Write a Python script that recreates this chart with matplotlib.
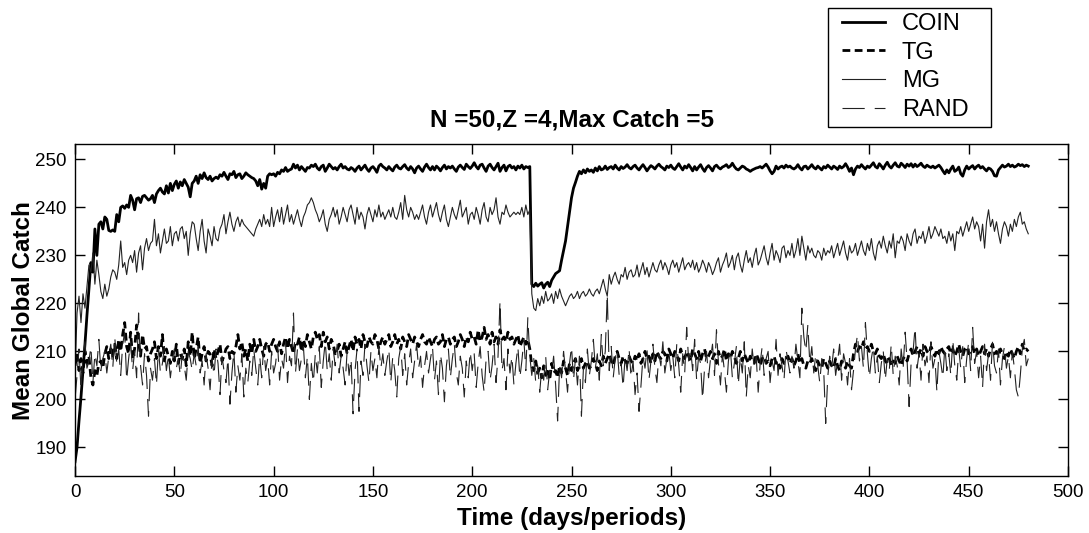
import numpy as np
import matplotlib
matplotlib.use("Agg")
import matplotlib.pyplot as plt
from matplotlib.patches import Rectangle

title = "N =50,Z =4,Max Catch =5"
xlabel = "Time (days/periods)"
ylabel = "Mean Global Catch"
labels = ["COIN", "TG", "MG", "RAND"]
xticks = [0, 50, 100, 150, 200, 250, 300, 350, 400, 450, 500]
yticks = [190, 200, 210, 220, 230, 240, 250]

coin = [
187.0, 190.0, 195.5, 200.5, 206.0, 211.5, 217.5, 223.0, 228.5, 226.5, 235.5, 230.0, 236.5, 237.0, 235.5, 238.0, 237.5, 235.2, 235.0, 235.3,
235.0, 238.5, 237.0, 240.0, 240.3, 239.8, 240.5, 240.0, 242.5, 241.5, 239.5, 241.8, 242.0, 241.0, 242.3, 242.5, 242.0, 241.5, 241.8, 242.5,
241.0, 242.8, 243.5, 244.0, 243.2, 242.8, 244.5, 243.0, 245.0, 243.5, 244.8, 245.5, 244.0, 245.3, 244.5, 245.8, 245.0, 244.2, 242.2, 245.0,
245.5, 246.5, 245.0, 246.8, 246.0, 247.2, 246.2, 245.8, 246.5, 245.5, 246.0, 246.3, 246.0, 246.8, 246.5, 247.3, 246.5, 245.8, 247.0, 246.8,
247.5, 246.2, 246.8, 247.0, 246.0, 246.5, 247.2, 246.8, 246.5, 246.2, 246.0, 245.5, 244.5, 245.8, 243.8, 245.0, 244.0, 246.5, 247.0, 246.8,
247.0, 246.5, 247.3, 247.0, 247.8, 247.5, 248.3, 247.5, 247.8, 248.0, 249.0, 248.2, 248.8, 247.8, 248.5, 248.0, 247.5, 248.3, 248.2, 248.8,
248.5, 249.0, 248.2, 247.8, 248.5, 248.8, 247.5, 248.2, 249.0, 248.5, 248.0, 248.3, 247.8, 248.5, 249.0, 248.2, 248.5, 248.0, 247.8, 248.3,
248.0, 247.5, 248.2, 248.6, 247.8, 248.3, 248.8, 248.0, 247.5, 248.2, 248.5, 248.0, 247.3, 248.6, 249.0, 248.5, 248.2, 247.8, 248.5, 248.0,
247.6, 248.4, 248.8, 248.2, 248.0, 248.5, 248.9, 248.2, 247.8, 248.5, 248.0, 247.2, 248.2, 248.6, 248.0, 247.5, 248.4, 249.0, 248.3, 247.8,
248.5, 247.8, 248.6, 248.2, 247.6, 248.3, 248.8, 248.0, 248.5, 248.2, 248.6, 248.0, 247.5, 248.4, 248.8, 248.3, 247.9, 249.0, 248.5, 248.1,
248.6, 249.3, 248.5, 248.0, 248.8, 249.0, 248.2, 247.5, 248.6, 249.0, 248.3, 247.8, 248.5, 249.2, 247.5, 248.3, 248.8, 247.6, 248.5, 248.8,
248.2, 248.5, 247.8, 248.6, 248.2, 248.8, 248.0, 248.5, 248.3, 248.5, 224.0, 223.5, 224.2, 223.6, 224.0, 224.3, 223.2, 224.0, 224.4, 223.5,
224.8, 225.5, 226.2, 226.5, 226.8, 229.0, 231.0, 233.0, 236.0, 239.0, 242.0, 244.0, 245.2, 246.5, 247.5, 247.0, 247.8, 247.2, 248.0, 247.5,
247.8, 247.3, 248.2, 247.6, 248.5, 247.8, 248.0, 248.6, 247.9, 248.3, 248.5, 248.0, 248.8, 248.2, 247.8, 248.5, 248.1, 248.4, 248.9, 248.3,
248.0, 248.5, 248.8, 248.2, 247.8, 248.4, 248.9, 248.3, 247.6, 248.2, 248.7, 248.4, 248.0, 248.6, 249.0, 248.5, 248.2, 247.8, 248.6, 248.3,
248.8, 248.2, 247.9, 248.5, 249.1, 248.4, 247.8, 248.6, 248.2, 248.9, 248.3, 247.6, 248.5, 247.8, 248.4, 248.9, 248.1, 247.5, 248.3, 248.7,
248.2, 247.6, 248.5, 248.8, 248.3, 248.0, 248.4, 248.6, 248.9, 248.3, 248.6, 249.2, 248.5, 248.0, 247.8, 248.2, 248.6, 248.4, 248.0, 247.8,
247.5, 247.8, 248.0, 248.2, 248.3, 248.5, 248.2, 248.6, 249.0, 248.4, 247.6, 247.0, 247.5, 248.6, 248.0, 248.4, 248.6, 248.2, 248.8, 248.4,
248.6, 248.2, 248.0, 248.3, 248.9, 248.2, 247.8, 248.5, 248.6, 248.0, 248.4, 248.9, 248.3, 248.0, 248.6, 248.2, 247.8, 248.5, 248.2, 248.8,
248.4, 248.0, 248.6, 248.3, 247.9, 248.6, 248.2, 248.5, 249.1, 248.4, 247.5, 248.2, 246.8, 248.0, 248.6, 248.3, 248.9, 248.4, 248.0, 248.6,
248.3, 248.8, 249.3, 248.5, 248.2, 249.1, 248.6, 248.0, 248.8, 249.4, 248.6, 248.2, 248.8, 249.3, 248.6, 248.4, 249.2, 248.8, 248.3, 249.0,
248.6, 249.1, 248.4, 249.0, 248.5, 248.8, 249.2, 248.6, 248.3, 248.8, 248.5, 248.3, 248.6, 248.2, 248.5, 248.8, 248.3, 247.6, 247.0, 247.8,
247.2, 248.0, 248.6, 247.5, 247.8, 248.4, 247.0, 246.5, 247.8, 248.6, 248.0, 248.4, 248.7, 248.0, 248.5, 248.8, 248.2, 248.5, 248.0, 247.6,
248.2, 248.0, 247.5, 246.6, 246.5, 247.8, 248.3, 248.8, 248.4, 248.6, 249.0, 248.5, 248.8, 248.4, 248.6, 249.0, 248.7, 248.9, 248.5, 248.8,
248.6,
]

tg = [
207.0, 209.5, 206.0, 208.5, 205.5, 210.0, 207.5, 209.0, 204.5, 203.0, 206.0, 205.0, 207.5, 208.0, 206.5, 209.5, 211.0, 208.5, 210.5, 209.0,
211.5, 208.5, 212.5, 210.0, 213.5, 216.0, 211.0, 209.5, 214.0, 208.5, 210.5, 215.5, 212.0, 209.0, 213.5, 210.5, 211.0, 208.0, 209.5, 210.5,
212.0, 208.5, 211.0, 209.0, 213.5, 208.0, 210.5, 209.0, 207.5, 210.0, 208.0, 211.5, 207.5, 209.5, 208.5, 210.5, 207.0, 212.0, 209.0, 214.0,
208.5, 210.5, 213.0, 207.5, 209.5, 211.0, 208.0, 210.0, 209.5, 207.0, 210.5, 208.5, 210.0, 211.5, 208.0, 209.0, 210.5, 211.0, 208.5, 210.0,
209.5, 211.0, 213.5, 210.5, 212.0, 209.0, 210.5, 208.0, 211.5, 209.5, 212.5, 210.0, 211.0, 212.5, 210.5, 209.0, 211.5, 212.0, 210.0, 211.5,
212.5, 211.0, 210.0, 212.0, 209.5, 211.5, 213.0, 210.5, 212.5, 211.0, 209.5, 212.0, 211.5, 213.0, 210.0, 212.5, 211.0, 213.5, 212.0, 210.5,
213.0, 214.0, 212.5, 213.5, 211.0, 214.0, 212.0, 213.0, 210.5, 212.5, 211.5, 209.5, 210.0, 211.5, 209.0, 210.5, 212.0, 209.5, 211.0, 212.5,
210.0, 213.0, 211.5, 212.5, 210.5, 213.5, 212.0, 211.0, 213.0, 212.0, 211.5, 213.5, 212.5, 210.5, 212.0, 213.0, 211.5, 212.5, 213.5, 211.0,
212.0, 213.5, 211.5, 212.5, 210.5, 213.0, 212.0, 211.0, 213.5, 212.5, 211.5, 213.0, 212.0, 211.0, 212.5, 213.5, 212.0, 211.5, 213.0, 212.0,
211.0, 212.5, 213.0, 211.5, 212.0, 213.5, 211.0, 212.5, 213.0, 211.5, 212.5, 213.0, 211.0, 212.0, 213.5, 212.5, 211.0, 213.0, 212.0, 214.0,
212.5, 213.0, 211.5, 214.5, 212.0, 213.0, 215.0, 212.5, 213.5, 211.5, 214.0, 212.0, 213.0, 211.5, 214.5, 212.5, 213.0, 212.0, 214.0, 212.5,
213.0, 211.5, 212.5, 213.5, 211.0, 212.0, 213.0, 211.5, 212.5, 210.5, 207.0, 206.0, 208.0, 205.5, 206.5, 204.5, 207.0, 205.0, 206.5, 204.0,
207.5, 205.5, 206.0, 204.5, 207.0, 205.5, 208.0, 206.5, 205.0, 207.5, 206.0, 207.5, 208.5, 206.0, 207.0, 208.5, 206.5, 207.5, 208.0, 206.5,
207.0, 208.5, 207.5, 206.0, 208.0, 207.0, 209.0, 207.5, 208.5, 209.5, 208.0, 207.0, 209.0, 210.0, 208.5, 207.5, 209.0, 208.0, 207.5, 209.0,
208.0, 207.5, 209.0, 208.0, 209.5, 207.5, 208.5, 210.0, 208.5, 209.0, 207.5, 209.5, 208.0, 210.0, 209.0, 208.5, 210.0, 209.5, 208.0, 210.5,
209.5, 208.5, 210.0, 209.5, 208.0, 210.5, 209.0, 208.5, 210.0, 209.0, 208.0, 210.5, 209.5, 208.5, 210.0, 208.0, 209.5, 210.5, 208.5, 209.0,
210.0, 208.5, 209.5, 207.5, 210.0, 208.5, 209.0, 210.5, 208.0, 209.5, 208.5, 210.0, 209.0, 207.5, 208.5, 210.0, 208.0, 209.5, 208.5, 207.5,
209.0, 208.0, 207.5, 209.5, 208.5, 207.0, 208.5, 209.0, 207.5, 208.0, 207.0, 208.5, 209.0, 207.5, 208.0, 206.5, 208.5, 207.5, 208.0, 209.0,
207.5, 208.5, 207.0, 208.0, 209.5, 207.5, 208.5, 207.0, 206.5, 208.0, 207.5, 208.5, 207.0, 206.0, 208.0, 207.0, 206.5, 208.5, 207.5, 206.5,
208.0, 207.0, 206.5, 208.5, 207.0, 206.0, 208.0, 207.5, 206.5, 208.0, 207.0, 206.5, 209.5, 211.5, 210.0, 211.0, 210.5, 212.0, 210.5, 211.0,
210.0, 211.5, 210.0, 209.5, 210.5, 209.0, 208.5, 209.5, 208.0, 207.5, 208.5, 207.0, 208.0, 207.5, 209.0, 208.0, 207.0, 208.5, 209.0, 208.0,
209.5, 210.5, 209.0, 210.0, 211.0, 209.5, 210.5, 209.0, 211.0, 210.0, 209.5, 211.0, 210.0, 209.0, 210.5, 209.5, 211.0, 210.0, 209.5, 210.5,
211.0, 209.5, 210.5, 209.0, 210.0, 211.5, 210.0, 209.0, 210.5, 211.0, 209.5, 210.0, 211.0, 209.5, 210.5, 209.0, 210.0, 211.0, 209.5, 210.5,
209.0, 210.5, 211.5, 209.5, 210.0, 209.0, 210.5, 209.5, 208.5, 210.0, 209.0, 210.5, 209.5, 208.5, 210.0, 211.0, 209.5, 211.5, 210.0, 210.5,
210.0,
]

mg = [
205.0, 218.0, 221.5, 216.0, 222.0, 219.0, 223.5, 228.0, 226.5, 230.5, 224.0, 229.0, 226.0, 222.5, 221.0, 224.0, 221.5, 223.0, 225.5, 227.0,
226.5, 225.0, 228.0, 233.0, 227.5, 228.5, 226.0, 229.0, 230.0, 228.5, 231.0, 226.5, 230.5, 232.0, 227.0, 231.5, 233.5, 231.0, 232.5, 233.0,
237.5, 232.0, 234.5, 230.5, 233.0, 235.5, 232.5, 233.0, 236.0, 232.0, 234.5, 235.0, 233.0, 235.5, 236.0, 233.5, 235.0, 230.0, 234.5, 237.0,
236.5, 233.5, 231.0, 235.0, 237.5, 233.0, 230.5, 235.5, 234.0, 232.0, 236.0, 233.5, 233.0, 235.5, 236.5, 238.5, 234.5, 237.0, 239.0, 236.5,
235.0, 237.0, 238.0, 236.0, 237.5, 236.5, 236.0, 235.5, 235.0, 234.5, 234.0, 235.5, 236.5, 237.5, 236.0, 238.5, 236.5, 237.5, 236.0, 240.0,
236.0, 238.0, 239.5, 237.0, 240.0, 236.5, 238.5, 240.5, 237.0, 238.5, 236.5, 238.0, 239.5, 237.5, 236.0, 238.0, 239.0, 240.5, 241.0, 242.0,
241.0, 239.5, 238.5, 237.0, 238.0, 239.5, 236.5, 235.0, 237.5, 238.5, 240.0, 238.0, 239.5, 236.5, 238.0, 240.0, 238.5, 237.0, 239.5, 240.5,
238.5, 236.5, 240.0, 237.5, 239.0, 238.0, 235.5, 238.5, 240.0, 238.5, 237.0, 239.5, 238.0, 240.5, 238.0, 239.0, 237.5, 238.5, 239.5, 238.0,
240.0, 238.0, 237.5, 239.0, 241.0, 237.5, 242.5, 239.5, 238.0, 240.0, 239.0, 237.5, 238.5, 237.5, 239.0, 240.5, 238.0, 236.5, 239.0, 240.5,
238.0, 239.5, 241.0, 238.5, 237.0, 239.0, 240.5, 237.5, 236.0, 238.0, 240.0, 238.5, 237.5, 239.5, 241.5, 238.0, 239.0, 240.0, 236.5, 238.5,
239.0, 237.5, 240.0, 238.5, 236.5, 239.5, 241.0, 238.0, 237.0, 240.0, 238.5, 239.5, 242.0, 238.0, 236.5, 239.0, 238.5, 240.5, 239.0, 238.0,
238.5, 239.0, 238.5, 239.0, 238.5, 240.0, 238.0, 240.5, 238.5, 239.5, 222.0, 219.0, 218.5, 221.0, 219.5, 221.5, 220.0, 222.5, 220.5, 221.0,
222.0, 220.0, 222.5, 221.0, 223.0, 221.5, 220.5, 219.5, 220.5, 221.5, 222.0, 221.0, 221.5, 222.5, 221.0, 222.0, 222.5, 221.5, 222.0, 223.0,
222.0, 221.5, 222.5, 223.0, 222.0, 223.5, 225.0, 223.0, 221.5, 226.0, 224.0, 225.5, 226.5, 225.0, 224.0, 226.0, 225.5, 227.5, 225.0, 226.5,
227.0, 225.5, 226.0, 228.0, 225.5, 227.0, 228.5, 226.0, 227.5, 225.5, 227.0, 228.5, 227.0, 226.5, 228.0, 229.0, 227.0, 228.5, 227.5, 226.0,
228.0, 229.0, 227.5, 228.5, 226.5, 228.0, 229.5, 227.0, 228.0, 228.5, 227.5, 229.0, 227.0, 228.5, 226.5, 227.5, 229.0, 228.0, 226.5, 228.5,
227.5, 226.0, 227.0, 228.5, 229.5, 226.5, 228.0, 229.0, 230.5, 227.5, 228.5, 230.0, 227.0, 229.5, 230.5, 228.0, 226.5, 229.0, 231.0, 228.5,
229.5, 227.5, 230.0, 231.5, 228.0, 229.0, 230.5, 232.0, 229.5, 228.0, 230.5, 232.5, 229.0, 231.0, 230.0, 228.5, 231.5, 232.0, 229.5, 231.0,
230.0, 232.5, 229.5, 231.0, 233.5, 230.0, 234.0, 231.5, 229.0, 232.0, 230.5, 231.5, 230.0, 229.5, 231.0, 230.5, 229.0, 231.5, 230.0, 231.0,
230.5, 232.0, 229.5, 231.0, 232.5, 230.0, 231.5, 233.0, 230.5, 229.0, 232.0, 230.5, 231.0, 232.5, 230.0, 231.5, 233.0, 231.0, 230.0, 232.5,
231.0, 233.5, 230.5, 229.0, 232.0, 233.0, 231.5, 234.0, 232.0, 230.5, 233.0, 231.5, 234.5, 229.5, 233.0, 232.5, 234.0, 233.0, 231.0, 234.5,
233.0, 232.0, 234.5, 235.5, 232.5, 234.0, 233.5, 235.0, 232.5, 234.0, 236.0, 233.5, 234.5, 236.0, 235.0, 234.0, 235.5, 233.5, 234.0, 232.5,
235.0, 233.0, 234.5, 231.0, 235.0, 234.5, 236.0, 234.0, 235.5, 237.0, 235.0, 236.5, 238.0, 235.5, 237.0, 236.0, 233.0, 236.5, 231.5, 237.0,
239.5, 236.0, 237.5, 235.0, 237.0, 234.5, 232.5, 235.5, 237.0, 236.0, 234.0, 236.5, 235.0, 237.5, 236.0, 238.0, 239.0, 236.5, 237.0, 235.5,
234.5,
]

rand = [
200.0, 205.0, 210.5, 202.0, 209.0, 212.0, 206.5, 208.0, 211.0, 203.5, 209.5, 207.0, 212.5, 206.0, 208.5, 210.0, 205.5, 209.0, 211.5, 206.5,
213.0, 207.5, 210.5, 205.0, 211.5, 214.0, 204.0, 208.5, 212.0, 206.0, 210.0, 204.5, 218.0, 207.0, 203.0, 209.5, 205.0, 196.5, 206.5, 204.0,
208.5, 203.0, 210.5, 205.5, 207.5, 211.0, 206.0, 209.0, 204.5, 208.0, 210.5, 206.5, 208.5, 205.0, 209.5, 207.0, 204.0, 210.0, 208.5, 206.0,
209.5, 207.0, 211.0, 205.5, 208.0, 203.0, 209.5, 206.5, 202.0, 208.5, 205.0, 210.5, 207.5, 201.0, 209.0, 206.0, 203.5, 208.5, 199.0, 205.5,
210.0, 201.5, 207.0, 204.0, 209.5, 200.5, 206.5, 203.5, 208.0, 205.0, 210.5, 206.5, 203.0, 209.0, 204.5, 211.0, 206.0, 208.5, 203.0, 210.0,
205.5, 207.5, 211.5, 204.0, 208.5, 206.5, 212.0, 203.5, 209.0, 207.0, 218.0, 205.5, 210.5, 206.0, 208.5, 211.0, 204.5, 209.0, 200.0, 207.5,
203.5, 209.5, 205.5, 211.0, 202.5, 208.0, 212.0, 206.0, 209.5, 204.0, 210.5, 207.0, 211.5, 205.5, 209.0, 206.5, 203.0, 210.0, 205.0, 208.5,
197.0, 206.0, 210.5, 197.5, 208.0, 205.0, 211.5, 207.0, 203.5, 210.0, 206.0, 208.5, 204.5, 211.0, 206.5, 209.5, 205.0, 208.0, 210.5, 203.5,
209.0, 206.0, 200.5, 208.5, 211.0, 205.0, 209.5, 203.0, 207.5, 210.5, 204.5, 208.0, 211.5, 206.5, 209.0, 202.5, 207.0, 210.0, 205.5, 208.5,
211.0, 204.0, 208.0, 201.0, 209.5, 206.5, 199.5, 207.0, 210.5, 204.5, 208.5, 211.5, 205.5, 203.0, 209.0, 206.5, 200.5, 208.0, 204.5, 210.0,
206.0, 209.5, 202.5, 207.5, 211.0, 205.0, 201.5, 208.5, 210.0, 204.0, 207.0, 211.5, 203.5, 209.0, 220.5, 206.0, 208.5, 202.0, 210.5, 205.5,
209.0, 203.0, 207.5, 211.0, 204.5, 208.0, 212.5, 206.0, 217.0, 209.0, 205.0, 208.5, 203.5, 207.0, 201.5, 206.5, 204.0, 209.0, 202.0, 206.0,
205.5, 209.0, 203.0, 195.5, 207.0, 204.5, 210.0, 206.0, 201.5, 207.5, 211.0, 204.0, 208.5, 203.0, 209.0, 196.5, 206.5, 203.5, 210.5, 205.0,
208.0, 212.5, 206.5, 209.5, 204.0, 213.5, 207.0, 210.0, 222.0, 206.0, 211.0, 204.5, 208.5, 210.5, 205.0, 207.5, 202.5, 209.0, 206.0, 210.5,
204.5, 208.0, 201.0, 205.5, 197.5, 203.0, 209.0, 206.5, 210.5, 204.0, 208.0, 211.5, 206.5, 203.5, 209.5, 207.0, 212.0, 205.5, 208.5, 210.0,
206.0, 209.0, 204.5, 211.5, 207.0, 201.5, 209.5, 205.5, 215.0, 208.0, 210.5, 206.0, 212.5, 204.0, 209.0, 207.5, 200.0, 206.5, 210.0, 204.5,
208.5, 211.5, 205.0, 214.5, 207.5, 203.0, 209.5, 206.0, 201.5, 208.0, 210.5, 204.5, 207.5, 211.0, 203.0, 209.0, 205.5, 212.0, 200.5, 207.0,
204.5, 210.5, 206.5, 209.0, 201.5, 207.5, 211.0, 205.0, 208.5, 210.0, 203.5, 208.0, 206.0, 212.5, 205.0, 209.5, 207.0, 204.0, 210.5, 208.0,
205.5, 209.0, 206.5, 211.5, 208.0, 204.5, 219.0, 213.0, 210.0, 215.5, 207.5, 211.0, 205.5, 209.5, 207.0, 203.5, 208.5, 206.0, 195.0, 204.5,
209.0, 206.5, 210.5, 205.0, 208.0, 211.5, 204.0, 209.5, 207.5, 203.0, 208.5, 202.0, 206.0, 210.5, 213.5, 208.0, 211.0, 206.5, 216.0, 209.5,
204.5, 208.5, 211.0, 205.5, 209.0, 203.5, 207.5, 210.0, 204.0, 208.5, 206.0, 211.5, 205.0, 209.0, 207.0, 203.0, 210.5, 206.5, 214.0, 208.0,
198.5, 207.5, 210.0, 215.0, 206.5, 209.5, 204.0, 211.5, 207.0, 209.0, 203.5, 212.0, 206.5, 208.5, 201.5, 210.0, 207.5, 204.5, 211.0, 206.0,
209.5, 205.0, 212.5, 207.0, 204.0, 210.5, 206.5, 211.0, 203.5, 208.5, 212.0, 206.0, 215.0, 207.5, 210.0, 204.5, 209.0, 202.5, 211.5, 206.0,
209.5, 204.0, 212.0, 207.0, 205.5, 210.5, 203.0, 208.5, 211.0, 206.5, 209.0, 204.5, 210.0, 206.5, 202.0, 200.5, 205.0, 210.5, 212.5, 207.0,
208.5,
]

plt.rcParams['font.family'] = ['Liberation Sans', 'DejaVu Sans']

W, H = 1089, 533
fig = plt.figure(figsize=(W / 100, H / 100), dpi=100)
ax = fig.add_axes([0.0689, 0.1075, 0.9118, 0.6214])

ax.plot(np.arange(len(coin)), coin, color='black', lw=2.0, ls='-', label=labels[0])
ax.plot(np.arange(len(tg)), tg, color='black', lw=2.0, ls=(0, (2.8, 1.6)), label=labels[1])
ax.plot(np.arange(len(mg)), mg, color='#222222', lw=0.8, ls='-', label=labels[2])
ax.plot(np.arange(len(rand)), rand, color='#222222', lw=0.8, ls=(0, (20, 9)), label=labels[3])

ax.set_xlim(0, 500)
ax.set_ylim(184.1, 253.1)
ax.set_xticks(xticks)
ax.set_yticks(yticks)
ax.tick_params(direction='in', length=7, width=1, top=True, right=True,
               labelsize=13.5, pad=6)
for s in ax.spines.values():
    s.set_linewidth(1.0)

ax.set_title(title, fontsize=17.5, fontweight='bold', pad=13)
ax.set_xlabel(xlabel, fontsize=17.5, fontweight='bold', labelpad=4)
ax.set_ylabel(ylabel, fontsize=17.5, fontweight='bold', labelpad=0)

leg = fig.legend(loc='upper left', bbox_to_anchor=(842 / W, 1 - 13 / H), fontsize=17,
                 frameon=False, handlelength=1.82, handletextpad=0.72,
                 labelspacing=0.28, borderpad=0.0, borderaxespad=0)
fig.add_artist(Rectangle((828 / W, 1 - 127 / H), 163 / W, 119 / H,
                         transform=fig.transFigure, fill=False,
                         edgecolor='black', linewidth=1.0))

fig.savefig('out.png', dpi=100)
